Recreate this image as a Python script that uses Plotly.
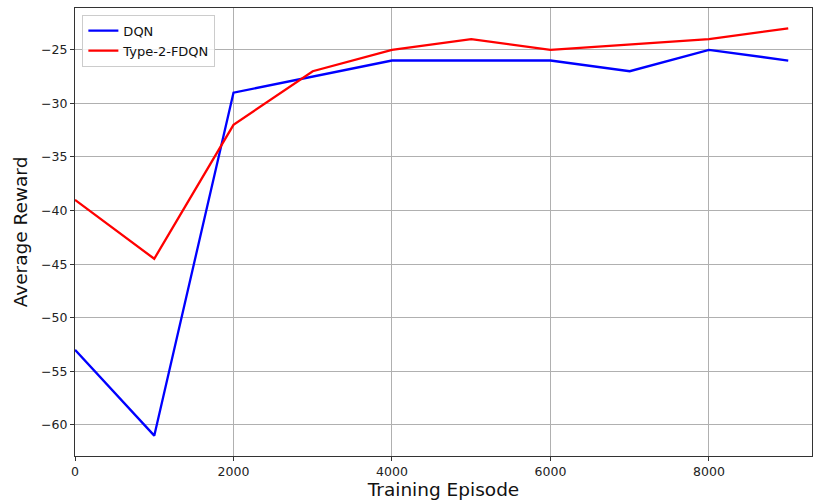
import plotly.graph_objects as go

episodes = [0, 1000, 2000, 3000, 4000, 5000, 6000, 7000, 8000, 9000]
dqn_reward = [-53, -61, -29, -27.5, -26, -26, -26, -27, -25, -26]
fdqn_reward = [-39, -44.5, -32, -27, -25, -24, -25, -24.5, -24, -23]

x_ticks = [0, 2000, 4000, 6000, 8000]
y_ticks = [-60, -55, -50, -45, -40, -35, -30, -25]

fig = go.Figure()
fig.add_trace(go.Scatter(x=episodes, y=dqn_reward, mode="lines", name="DQN",
                         line=dict(color="#0000ff", width=2.3)))
fig.add_trace(go.Scatter(x=episodes, y=fdqn_reward, mode="lines", name="Type-2-FDQN",
                         line=dict(color="#ff0000", width=2.3)))

axis_common = dict(
    showgrid=True, gridcolor="#b0b0b0", gridwidth=1,
    showline=True, linecolor="#333333", linewidth=1.2, mirror=True,
    ticks="outside", ticklen=4, tickcolor="#333333",
    tickfont=dict(family="DejaVu Sans", size=12.5, color="#222222"),
    zeroline=False,
)

title_font = dict(family="DejaVu Sans", size=18.5, color="#111111")

fig.update_xaxes(range=[0, 9300], tickvals=x_ticks,
                 title=dict(text="Training Episode", font=title_font, standoff=4),
                 **axis_common)
fig.update_yaxes(range=[-62.9, -21.1], tickvals=y_ticks,
                 tickformat="d",
                 title=dict(text="Average Reward", font=title_font, standoff=8),
                 **axis_common)

fig.update_layout(
    width=813, height=502,
    margin=dict(l=75, r=1, t=8, b=46),
    paper_bgcolor="white", plot_bgcolor="white",
    showlegend=True,
    legend=dict(x=0.01, y=0.985, xanchor="left", yanchor="top",
                bgcolor="rgba(255,255,255,0.85)", bordercolor="#cccccc", borderwidth=1,
                font=dict(family="DejaVu Sans", size=13, color="#111111"),
                itemwidth=30, tracegroupgap=0),
)

fig.write_html("out.html")
